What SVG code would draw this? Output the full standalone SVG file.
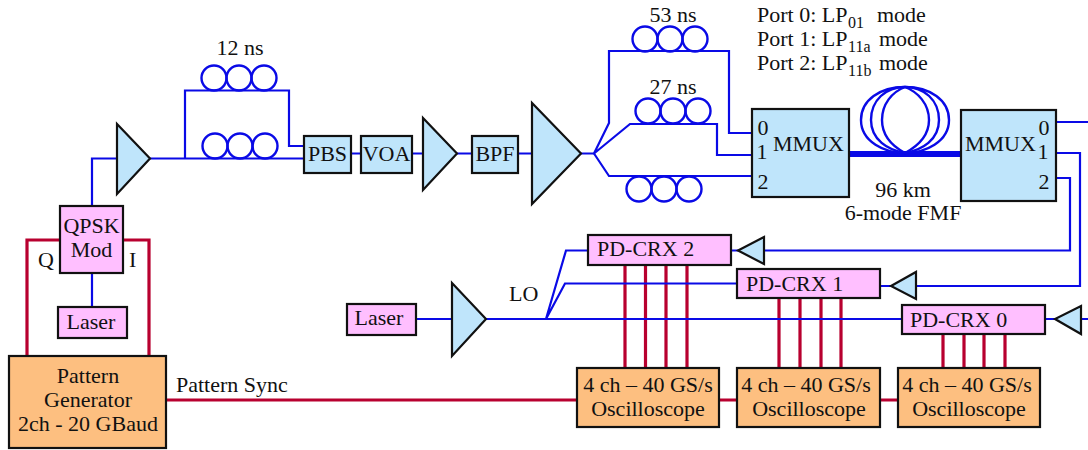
<svg xmlns="http://www.w3.org/2000/svg" width="1088" height="450" viewBox="0 0 1088 450">
<style>
text{font-family:"Liberation Serif","Times New Roman",serif;font-size:22px;fill:#111}
.m{text-anchor:middle}
.s{font-size:16px}
.b{fill:none;stroke:#0a0ae6;stroke-width:2.2}
.r{fill:none;stroke:#b8002f;stroke-width:3.2}
.c{fill:none;stroke:#0a0ae6;stroke-width:2.4}
.n{stroke:#111;stroke-width:2.2}
.blue{fill:#bfe5fb}
.pink{fill:#ffbfff}
.org{fill:#fdbf80}
</style>
<rect width="1088" height="450" fill="#fff"/>
<g id="connectors">
<g class="r-lines">
<path class="r" d="M27 356V240H60M123 240H149V356"/>
<path class="r" d="M166 400H577M719 400H737M880 400H898"/>
<path class="r" d="M625 265V368M645.500 265V368M666 265V368M687 265V368M779 298V368M800 298V368M821 298V368M841 298V368M943 334V368M964 334V368M984 334V368M1005 334V368"/>
</g>
<path class="b" d="M92 206V158.500H117M92 273V307"/>
<path class="b" d="M150 158.500H304M185 158.500V90.500H289V146H304"/>
<path class="b" d="M351 153.500H361M412 153.500H423M457 153.500H472M518 153.500H532M581 153.500H594"/>
<path class="b" d="M594 153.500L609 123V51H729V133H752M594 153.500L630 124H717V155H752M594 153.500L609 176H752"/>
<path class="b" d="M1056 122H1088M1056 153H1080V286H916M1056 178H1070V250.500H764M731 250.500H738M880 286H891M1045 319H1055M1081 319H1088"/>
<path class="b" d="M416 319H452M486 319H902M546 319L566 250.500H588M546 319L565 283.500H737"/>
<path d="M849 154H961" fill="none" stroke="#0a0ae6" stroke-width="6"/>
<g class="loops">
<circle class="c" cx="214" cy="78" r="12.500"/><circle class="c" cx="239" cy="78" r="12.500"/><circle class="c" cx="264" cy="78" r="12.500"/>
<circle class="c" cx="215" cy="146" r="12.500"/><circle class="c" cx="240" cy="146" r="12.500"/><circle class="c" cx="265" cy="146" r="12.500"/>
<circle class="c" cx="645" cy="39" r="12.500"/><circle class="c" cx="670" cy="39" r="12.500"/><circle class="c" cx="695" cy="39" r="12.500"/>
<circle class="c" cx="648" cy="111" r="12.500"/><circle class="c" cx="673" cy="111" r="12.500"/><circle class="c" cx="698" cy="111" r="12.500"/>
<circle class="c" cx="639" cy="189" r="12.500"/><circle class="c" cx="664" cy="189" r="12.500"/><circle class="c" cx="689" cy="189" r="12.500"/>
<path class="c" d="M905 153C885 153 861 142 861 120C861 100 880 87 905 87C930 87 949 100 949 120C949 142 925 153 905 153Z"/>
<path class="c" d="M905 153C888 150 871 140 871 120C871 100 886 87 905 87C924 87 939 100 939 120C939 140 922 150 905 153Z"/>
<path class="c" d="M905 153C892 146 882 135 882 120C882 104 892 92 905 87C918 92 929 104 929 120C929 135 918 146 905 153Z"/>
</g>
</g>
<g id="amp-tx"><path class="n blue" d="M117 124V194L150 158.500Z"/></g>
<g id="qpsk-mod"><rect class="n pink" x="60" y="206" width="63" height="67"/><text class="m" x="91.500" y="233">QPSK</text><text class="m" x="91.500" y="257">Mod</text></g>
<g id="laser-tx"><rect class="n pink" x="58" y="307" width="69" height="31"/><text class="m" x="91" y="329">Laser</text></g>
<g id="pattern-generator"><rect class="n org" x="9" y="356" width="157" height="92"/><text class="m" x="88" y="383">Pattern</text><text class="m" x="88" y="407">Generator</text><text class="m" x="88" y="431">2ch - 20 GBaud</text></g>
<g id="pbs"><rect class="n blue" x="304" y="136" width="47" height="37"/><text class="m" x="327.500" y="161">PBS</text></g>
<g id="voa"><rect class="n blue" x="361" y="136" width="51" height="37"/><text class="m" x="386.500" y="161">VOA</text></g>
<g id="amp-2"><path class="n blue" d="M423 118V190L457 153.500Z"/></g>
<g id="bpf"><rect class="n blue" x="472" y="136" width="46" height="37"/><text class="m" x="495" y="161">BPF</text></g>
<g id="amp-3"><path class="n blue" d="M532 103V204L581 153.500Z"/></g>
<g id="mmux-in"><rect class="n blue" x="752" y="109" width="97" height="88"/><text class="m" x="763" y="135">0</text><text class="m" x="762" y="159">1</text><text class="m" x="763" y="189">2</text><text x="773" y="151">MMUX</text></g>
<g id="mmux-out"><rect class="n blue" x="961" y="110" width="95" height="91"/><text x="965" y="151">MMUX</text><text class="m" x="1044" y="135">0</text><text class="m" x="1043" y="159">1</text><text class="m" x="1044" y="189">2</text></g>
<g id="laser-lo"><rect class="n pink" x="347" y="304" width="69" height="31"/><text class="m" x="379" y="325">Laser</text></g>
<g id="amp-lo"><path class="n blue" d="M452 283V356L486 319Z"/></g>
<g id="pd-crx-2"><rect class="n pink" x="588" y="235" width="143" height="30"/><text x="597" y="256">PD-CRX 2</text></g>
<g id="amp-rx2"><path class="n blue" d="M764 237V264L738 250.500Z"/></g>
<g id="pd-crx-1"><rect class="n pink" x="737" y="269" width="143" height="29"/><text x="746" y="291">PD-CRX 1</text></g>
<g id="amp-rx1"><path class="n blue" d="M916 272V299L891 286Z"/></g>
<g id="pd-crx-0"><rect class="n pink" x="902" y="305" width="143" height="29"/><text x="910" y="327">PD-CRX 0</text></g>
<g id="amp-rx0"><path class="n blue" d="M1081 306V334L1055 319Z"/></g>
<g id="scope-2"><rect class="n org" x="577" y="368" width="142" height="59"/><text class="m" x="648" y="392">4 ch – 40 GS/s</text><text class="m" x="648" y="416">Oscilloscope</text></g>
<g id="scope-1"><rect class="n org" x="737" y="368" width="143" height="59"/><text class="m" x="806" y="392">4 ch – 40 GS/s</text><text class="m" x="809" y="416">Oscilloscope</text></g>
<g id="scope-0"><rect class="n org" x="898" y="368" width="142" height="59"/><text class="m" x="967" y="392">4 ch – 40 GS/s</text><text class="m" x="969" y="416">Oscilloscope</text></g>
<g id="labels">
<text class="m" x="240" y="55">12 ns</text>
<text class="m" x="673" y="22">53 ns</text>
<text class="m" x="673" y="94">27 ns</text>
<text x="38" y="267">Q</text>
<text x="129" y="267">I</text>
<text x="176" y="392">Pattern Sync</text>
<text x="509" y="301">LO</text>
<text class="m" x="903" y="197">96 km</text>
<text class="m" x="903" y="220">6-mode FMF</text>
<text x="757" y="22">Port 0: LP<tspan class="s" x="848" y="28">01</tspan><tspan x="877" y="22">mode</tspan></text>
<text x="757" y="46">Port 1: LP<tspan class="s" x="848" y="52">11a</tspan><tspan x="879" y="46">mode</tspan></text>
<text x="757" y="70">Port 2: LP<tspan class="s" x="848" y="76">11b</tspan><tspan x="879" y="70">mode</tspan></text>
</g>
</svg>
